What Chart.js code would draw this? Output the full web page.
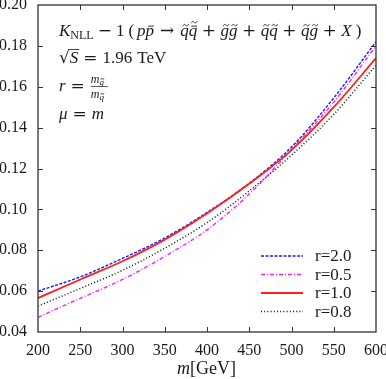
<!DOCTYPE html>
<html>
<head>
<meta charset="utf-8">
<script src="https://cdn.jsdelivr.net/npm/chart.js@4/dist/chart.umd.min.js"></script>
<style>
  body { margin: 0; background: #fff; }
  canvas { display: block; }
</style>
</head>
<body>
<canvas id="grafico" width="386" height="379"></canvas>
<script>
// valores (K_NLL - 1 em função de m)
const massas = [200, 250, 300, 350, 400, 450, 500, 550, 600];
const kR20 = [0.0600, 0.0670, 0.0760, 0.0860, 0.0985, 0.1128, 0.1305, 0.1545, 0.1820];
const kR05 = [0.0472, 0.0565, 0.0657, 0.0770, 0.0900, 0.1075, 0.1293, 0.1525, 0.1800];
const kR10 = [0.0566, 0.0657, 0.0746, 0.0852, 0.0980, 0.1125, 0.1290, 0.1500, 0.1740];
const kR08 = [0.0527, 0.0613, 0.0702, 0.0810, 0.0935, 0.1090, 0.1265, 0.1465, 0.1705];
const rotulos = ["r=2.0", "r=0.5", "r=1.0", "r=0.8"];
const xTicks = [200, 250, 300, 350, 400, 450, 500, 550, 600];
const yTicks = [0.04, 0.06, 0.08, 0.10, 0.12, 0.14, 0.16, 0.18, 0.20];

const SERIF = '"Liberation Serif", "DejaVu Serif", serif';
const OPER = '"DejaVu Serif", serif';
const COR_TEXTO = "#1a1a1a";

function pontos(valores) {
  return massas.map((m, i) => ({ x: m, y: valores[i] }));
}

// til desenhado à mão (centro cx, altura y)
function til(ctx, cx, y, w) {
  ctx.beginPath();
  ctx.moveTo(cx - w, y + 1);
  ctx.bezierCurveTo(cx - w / 2, y - 1.8, cx - w / 4, y - 0.5, cx, y);
  ctx.bezierCurveTo(cx + w / 4, y + 0.5, cx + w / 2, y + 1.8, cx + w, y - 1);
  ctx.stroke();
}

// desenha um trecho de texto com fontes mistas; g = espaço extra
function textoRico(ctx, x, y, partes) {
  partes.forEach(p => {
    if (p.g) { x += p.g; return; }
    const tam = p.s || 17;
    ctx.font = (p.i ? "italic " : "") + tam + "px " + (p.op ? OPER : SERIF);
    const yy = y + (p.dy || 0);
    ctx.fillText(p.t, x, yy);
    const w = ctx.measureText(p.t).width;
    if (p.a) {
      const cx = x + w / 2 + (p.i ? tam * 0.07 : 0);
      const lw = tam * 0.17;
      ctx.save();
      ctx.strokeStyle = COR_TEXTO;
      ctx.lineWidth = tam > 12 ? 0.9 : 0.7;
      let topo = yy - tam * 0.58;
      if (p.a.includes("bar")) {
        ctx.beginPath();
        ctx.moveTo(cx - lw, topo);
        ctx.lineTo(cx + lw, topo);
        ctx.stroke();
        topo -= 3;
      }
      if (p.a.includes("til")) til(ctx, cx, topo - 1, lw);
      ctx.restore();
    }
    x += w;
  });
  return x;
}

const MAIS = [{ g: 4.5 }, { t: "+", op: true }, { g: 4.5 }];

const molduraPlugin = {
  id: "moldura",
  afterDraw(chart) {
    const ctx = chart.ctx;
    const a = chart.chartArea;
    const sx = chart.scales.x, sy = chart.scales.y;
    ctx.save();
    ctx.strokeStyle = "#333";
    ctx.lineWidth = 1.3;
    ctx.strokeRect(a.left, a.top, a.right - a.left, a.bottom - a.top);

    // marcas internas nos quatro lados
    ctx.lineWidth = 1;
    xTicks.slice(1, -1).forEach(v => {
      const px = Math.round(sx.getPixelForValue(v)) + 0.5;
      ctx.beginPath();
      ctx.moveTo(px, a.bottom); ctx.lineTo(px, a.bottom - 5);
      ctx.moveTo(px, a.top); ctx.lineTo(px, a.top + 5);
      ctx.stroke();
    });
    yTicks.slice(1, -1).forEach(v => {
      const py = Math.round(sy.getPixelForValue(v)) + 0.5;
      ctx.beginPath();
      ctx.moveTo(a.left, py); ctx.lineTo(a.left + 5, py);
      ctx.moveTo(a.right, py); ctx.lineTo(a.right - 5, py);
      ctx.stroke();
    });

    // título do eixo x: m[GeV]
    ctx.fillStyle = COR_TEXTO;
    ctx.textBaseline = "alphabetic";
    textoRico(ctx, 177, 374, [
      { t: "m", i: true, s: 18 },
      { t: "[GeV]", s: 18 }
    ]);

    // anotações do canto superior esquerdo
    const x0 = 59;
    textoRico(ctx, x0, 36, [
      { t: "K", i: true },
      { t: "NLL", s: 12, dy: 3 },
      { g: 4 }, { t: "\u2212", op: true }, { g: 4 },
      { t: "1" }, { g: 4 }, { t: "(" }, { g: 3 },
      { t: "p", i: true },
      { t: "p", i: true, a: "bar" },
      { g: 6 }, { t: "\u2192", op: true }, { g: 6 },
      { t: "q", i: true, a: "til" },
      { t: "q", i: true, a: "bar til" },
      ...MAIS,
      { t: "g", i: true, a: "til" },
      { t: "g", i: true, a: "til" },
      ...MAIS,
      { t: "q", i: true, a: "til" },
      { t: "q", i: true, a: "til" },
      ...MAIS,
      { t: "q", i: true, a: "til" },
      { t: "g", i: true, a: "til" },
      ...MAIS,
      { t: "X", i: true },
      { g: 4 }, { t: ")" }
    ]);

    // raiz de S com barra por cima
    let xr = textoRico(ctx, x0, 63, [{ t: "\u221A", op: true }]);
    const xs = xr;
    xr = textoRico(ctx, xr, 63, [{ t: "S", i: true }]);
    ctx.beginPath();
    ctx.lineWidth = 0.9;
    ctx.moveTo(xs - 1, 49.5); ctx.lineTo(xr + 1, 49.5);
    ctx.stroke();
    textoRico(ctx, xr, 63, [{ g: 5 }, { t: "=", op: true }, { g: 5 }, { t: "1.96" }, { g: 5 }, { t: "TeV" }]);

    // r = m_g / m_q
    let xf = textoRico(ctx, x0, 91, [{ t: "r", i: true }, { g: 5 }, { t: "=", op: true }, { g: 5 }]);
    xf += 1;
    textoRico(ctx, xf, 83, [{ t: "m", i: true, s: 12 }, { t: "g", i: true, s: 9, dy: 2, a: "til" }]);
    textoRico(ctx, xf, 98, [{ t: "m", i: true, s: 12 }, { t: "q", i: true, s: 9, dy: 2, a: "til" }]);
    ctx.beginPath();
    ctx.lineWidth = 0.8;
    ctx.moveTo(xf, 86.5); ctx.lineTo(xf + 17, 86.5);
    ctx.stroke();

    textoRico(ctx, x0, 119, [{ t: "\u03BC", i: true }, { g: 5 }, { t: "=", op: true }, { g: 5 }, { t: "m", i: true }]);

    // legenda no canto inferior direito
    ctx.textBaseline = "middle";
    chart.data.datasets.forEach((ds, i) => {
      const y = 256 + i * 18.5;
      ctx.beginPath();
      ctx.strokeStyle = ds.borderColor;
      ctx.lineWidth = ds.borderWidth;
      ctx.setLineDash(ds.borderDash || []);
      ctx.moveTo(261, y); ctx.lineTo(303, y);
      ctx.stroke();
      ctx.setLineDash([]);
      ctx.fillStyle = COR_TEXTO;
      ctx.font = "17px " + SERIF;
      ctx.fillText(ds.label, 315, y + 1);
    });
    ctx.restore();
  }
};

new Chart(document.getElementById("grafico"), {
  type: "line",
  data: {
    datasets: [
      { label: rotulos[0], data: pontos(kR20), borderColor: "#1a1aff", borderWidth: 1.4, borderDash: [3, 1.5], order: 2 },
      { label: rotulos[1], data: pontos(kR05), borderColor: "#ff1aff", borderWidth: 1.4, borderDash: [4, 2, 1, 2], order: 3 },
      { label: rotulos[2], data: pontos(kR10), borderColor: "#ff2020", borderWidth: 1.8, order: 1 },
      { label: rotulos[3], data: pontos(kR08), borderColor: "#111", borderWidth: 1.5, borderDash: [1, 2.2], order: 4 }
    ]
  },
  options: {
    responsive: false,
    animation: false,
    devicePixelRatio: 1,
    layout: { padding: { top: 5, right: 10, left: 0, bottom: 0 } },
    elements: {
      point: { radius: 0 },
      line: { cubicInterpolationMode: "monotone", fill: false }
    },
    plugins: {
      legend: { display: false },
      tooltip: { enabled: false }
    },
    scales: {
      x: {
        type: "linear",
        min: 200,
        max: 600,
        afterBuildTicks: s => { s.ticks = xTicks.map(v => ({ value: v })); },
        afterFit: s => { s.height = 47; s.paddingLeft = 0; s.paddingRight = 0; },
        grid: { display: false, drawTicks: false },
        border: { display: false },
        ticks: {
          padding: 9,
          color: COR_TEXTO,
          font: { family: SERIF, size: 16 },
          maxRotation: 0,
          callback: v => String(v)
        }
      },
      y: {
        min: 0.04,
        max: 0.20,
        afterBuildTicks: s => { s.ticks = yTicks.map(v => ({ value: v })); },
        afterFit: s => { s.width = 38; s.paddingTop = 0; s.paddingBottom = 0; },
        grid: { display: false, drawTicks: false },
        border: { display: false },
        ticks: {
          padding: 11,
          color: COR_TEXTO,
          font: { family: SERIF, size: 16 },
          callback: v => v.toFixed(2)
        }
      }
    }
  },
  plugins: [molduraPlugin]
});
</script>
</body>
</html>
